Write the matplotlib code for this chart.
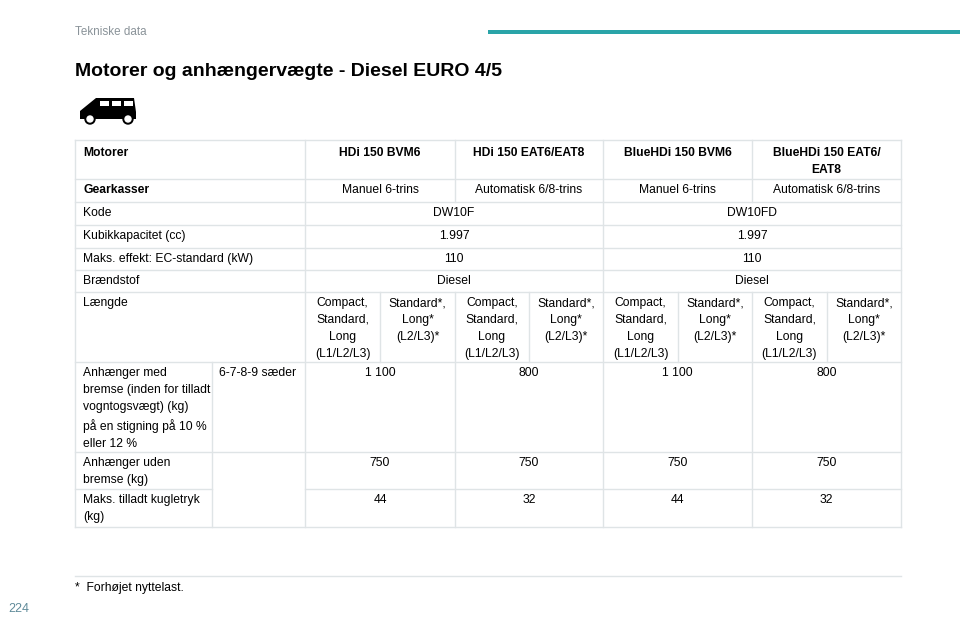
import matplotlib
matplotlib.use("Agg")
import matplotlib.pyplot as plt
from matplotlib.patches import Polygon, Circle, Rectangle

plt.rcParams["font.family"] = "Liberation Sans"

engines = ["HDi 150 BVM6", "HDi 150 EAT6/EAT8", "BlueHDi 150 BVM6", "BlueHDi 150 EAT6/\nEAT8"]
gearboxes = ["Manuel 6-trins", "Automatisk 6/8-trins", "Manuel 6-trins", "Automatisk 6/8-trins"]
codes = ["DW10F", "DW10FD"]
displacement = ["1.997", "1.997"]
power = ["110", "110"]
fuel = ["Diesel", "Diesel"]
lengths = ["Compact,\nStandard,\nLong\n(L1/L2/L3)", "Standard*,\nLong*\n(L2/L3)*"] * 4
braked = ["1 100", "800", "1 100", "800"]
unbraked = ["750", "750", "750", "750"]
noseload = ["44", "32", "44", "32"]

W, H = 960, 640
fig = plt.figure(figsize=(9.6, 6.4), dpi=100)
ax = fig.add_axes([0, 0, 1, 1])
ax.set_xlim(0, W); ax.set_ylim(H, 0); ax.axis("off")

# header
ax.text(75, 32, "Tekniske data", fontsize=8.4, color="#8a9399", va="center")
ax.add_patch(Rectangle((488, 30), 472, 4, color="#2aa4a8", lw=0))
ax.text(75, 71, "Motorer og anhængervægte - Diesel EURO 4/5", fontsize=14, fontweight="bold", va="center")

# car icon
ax.add_patch(Polygon([(80, 119), (80, 111), (96, 98), (134, 98), (136, 112), (136, 119)], color="black", lw=0))
for cx in (90, 128):
    ax.add_patch(Circle((cx, 119), 5, color="black"))
    ax.add_patch(Circle((cx, 119), 3, color="white"))
for wx in (100, 112, 124):
    ax.add_patch(Rectangle((wx, 101), 9, 5, color="white", lw=0))

L, R = 75, 901
major = [305, 455, 603, 752, 901]
sub = [380, 529, 678, 827]
rows = [140, 179, 202, 225, 248, 270, 292, 362, 452, 489, 527]
lc = "#dfe4e6"
fs = 8.7

def hl(y, x0=L, x1=R):
    ax.plot([x0, x1], [y, y], color=lc, lw=1)
def vl(x, y0, y1):
    ax.plot([x, x], [y0, y1], color=lc, lw=1)

for y in rows[:8]:
    hl(y)
hl(rows[8]); hl(rows[9], L, 212); hl(rows[9], 305, R); hl(rows[10])
vl(L, rows[0], rows[-1]); vl(R, rows[0], rows[-1]); vl(305, rows[0], rows[-1])
for x in major[1:4]:
    vl(x, rows[0], rows[2]); vl(x, rows[6], rows[-1])
vl(603, rows[2], rows[6])
for x in sub:
    vl(x, rows[6], rows[7])
vl(212, rows[7], rows[-1])

def txt(x, y, s, bold=False, ha="center"):
    ax.text(x, y, s, fontsize=fs, ha=ha, va="top", fontweight="bold" if bold else "normal",
            linespacing=1.55, multialignment="center" if ha == "center" else "left")

pad = 8
txt(L + pad, rows[0] + 7, "Motorer", True, "left")
txt(L + pad, rows[1] + 5, "Gearkasser", True, "left")
for i in range(4):
    cx = (major[i] + major[i + 1]) / 2
    txt(cx, rows[0] + 7, engines[i], True)
    txt(cx, rows[1] + 5, gearboxes[i])
labels = ["Kode", "Kubikkapacitet (cc)", "Maks. effekt: EC-standard (kW)", "Brændstof"]
vals = [codes, displacement, power, fuel]
for j in range(4):
    txt(L + pad, rows[2 + j] + 5, labels[j], ha="left")
    for k in range(2):
        cx = (major[2 * k] + major[2 * k + 2]) / 2
        txt(cx, rows[2 + j] + 5, vals[j][k])
txt(L + pad, rows[6] + 5, "Længde", ha="left")
edges = [305, 380, 455, 529, 603, 678, 752, 827, 901]
for i in range(8):
    txt((edges[i] + edges[i + 1]) / 2, rows[6] + 5, lengths[i])
txt(L + pad, rows[7] + 5, "Anhænger med\nbremse (inden for tilladt\nvogntogsvægt) (kg)\npå en stigning på 10 %\neller 12 %", ha="left")
txt(212 + 7, rows[7] + 5, "6-7-8-9 sæder", ha="left")
txt(L + pad, rows[8] + 5, "Anhænger uden\nbremse (kg)", ha="left")
txt(L + pad, rows[9] + 5, "Maks. tilladt kugletryk\n(kg)", ha="left")
for i in range(4):
    cx = (major[i] + major[i + 1]) / 2
    txt(cx, rows[7] + 5, braked[i])
    txt(cx, rows[8] + 5, unbraked[i])
    txt(cx, rows[9] + 5, noseload[i])

# footnote
ax.plot([L, R], [576, 576], color=lc, lw=1)
ax.text(75, 588, "*  Forhøjet nyttelast.", fontsize=fs, va="center")
ax.text(8, 609, "224", fontsize=9, color="#5f8a99", va="center")

fig.savefig("out.png", dpi=100)
